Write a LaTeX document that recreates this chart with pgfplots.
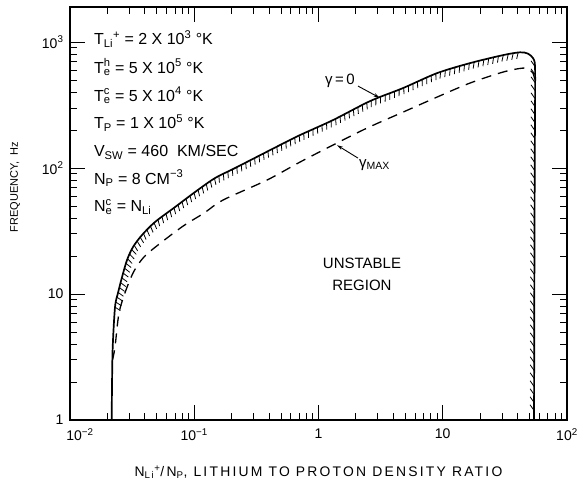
\documentclass[border=0pt]{standalone}
\usepackage{fontspec}
\setmainfont{Liberation Sans}
\newfontfamily\spaced[LetterSpace=16]{Liberation Sans}
\usepackage{pgfplots}
\pgfplotsset{compat=1.18}
\usetikzlibrary{decorations.pathreplacing, arrows.meta}

\pgfplotstableread{
x y
0.02166 1
0.02180 2.0
0.02207 3.8
0.02303 7.88
0.02434 10.2
0.02622 13.6
0.02876 18.6
0.03214 23.6
0.03798 29.4
0.04831 37.3
0.07000 49.0
0.1014 64.5
0.1469 83.3
0.2128 100
0.4898 152.3
0.7098 182.8
1.308 240.4
2.597 340
4.786 431.5
8.99 567
16.57 681
30.5 788
41.9 830
48.5 810
53.3 746
55.2 657
55.4 400
55.0 100
54.6 10
54.3 1
}\solidtab

\pgfplotstableread{
x y
0.02303 7.88
0.02434 10.2
0.02622 13.6
0.02876 18.6
0.03214 23.6
0.03798 29.4
0.04831 37.3
0.07000 49.0
0.1014 64.5
0.1469 83.3
0.2128 100
0.4898 152.3
0.7098 182.8
1.308 240.4
2.597 340
4.786 431.5
8.99 567
16.57 681
30.5 788
41.9 830
48.5 810
}\hatchtoptab

\pgfplotstableread{
x y
55.3 640
55.3 400
55.0 100
54.6 10
54.3 1
}\hatchsidetab

\pgfplotstableread{
x y
0.02198 2.99
0.02303 3.80
0.02480 7.07
0.02823 10.76
0.03274 15.2
0.03941 19.7
0.05108 24.5
0.08122 34.6
0.1198 43.9
0.1703 55.7
0.3850 80.3
0.7098 111.6
1.308 152.3
2.456 207.7
4.786 278
8.99 366
16.57 473
30.5 578
44.2 622
50.4 600
53.3 567
55.2 499
}\dashedtab

\begin{document}
\begin{tikzpicture}
\useasboundingbox (-70pt,-63pt) rectangle (509pt,420pt);
\begin{axis}[
  scale only axis, width=497pt, height=413pt,
  xmode=log, ymode=log,
  xmin=0.01, xmax=100, ymin=1, ymax=1900,
  axis line style={line width=1.3pt},
  tick pos=both, tick align=inside,
  major tick length=15pt, minor tick length=7pt,
  every tick/.style={black, line width=0.9pt},
  xtick={0.01,0.1,1,10,100},
  xticklabels={\hspace*{20pt}10\textsuperscript{−2},10\textsuperscript{−1},1,10,10\textsuperscript{2}},
  ytick={1,10,100,1000},
  yticklabels={1,10,10\textsuperscript{2},10\textsuperscript{3}},
  tick label style={font=\fontsize{14}{16}\selectfont},
  xticklabel style={yshift=-5pt},
  yticklabel style={xshift=-3pt},
  xlabel={\spaced N\textsubscript{Li}\textsuperscript{+}/N\textsubscript{P}, LITHIUM TO PROTON DENSITY RATIO},
  ylabel={FREQUENCY,\ \ Hz},
  every axis x label/.style={at={(axis description cs:0.5,-0.126)}, anchor=center, font=\fontsize{13.9}{16}\selectfont},
  every axis y label/.style={at={(axis description cs:-0.1107,0.564)}, anchor=center, rotate=90, font=\fontsize{11}{13}\selectfont},
]
\addplot[black, line width=1.7pt, smooth] table {\solidtab};
\addplot[black, line width=1.3pt, dash pattern=on 10pt off 7pt, smooth] table {\dashedtab};
\addplot[black, line width=0.8pt, decorate,
  decoration={border, segment length=5pt, amplitude=6.5pt, angle=-112}] table {\hatchtoptab};
\addplot[black, line width=0.8pt, decorate,
  decoration={border, segment length=8pt, amplitude=7pt, angle=-145}] table {\hatchsidetab};

\draw[-{Stealth[length=6pt,width=3.5pt]}, line width=0.9pt] (axis cs:2.08,447.6) -- (axis cs:3.1,362);
\node[inner sep=0pt, font=\fontsize{15}{18}\selectfont] at (axis cs:1.489,490) {γ\,=\,0};
\draw[-{Stealth[length=6pt,width=3.5pt]}, line width=0.9pt] (axis cs:2.08,120) -- (axis cs:1.409,152);
\node[anchor=west, inner sep=1pt, font=\fontsize{15}{18}\selectfont] at (axis cs:2.08,105.6) {γ\textsubscript{MAX}};

\node[anchor=base west, inner sep=0pt, font=\fontsize{16}{18}\selectfont] at (rel axis cs:0.048,0.908) {T\textsubscript{Li}\textsuperscript{+} = 2 X 10\textsuperscript{3} °K};
\node[anchor=base west, inner sep=0pt, font=\fontsize{16}{18}\selectfont] at (rel axis cs:0.048,0.840) {T\rlap{\textsuperscript{h}}\textsubscript{e} = 5 X 10\textsuperscript{5} °K};
\node[anchor=base west, inner sep=0pt, font=\fontsize{16}{18}\selectfont] at (rel axis cs:0.048,0.772) {T\rlap{\textsuperscript{c}}\textsubscript{e} = 5 X 10\textsuperscript{4} °K};
\node[anchor=base west, inner sep=0pt, font=\fontsize{16}{18}\selectfont] at (rel axis cs:0.048,0.705) {T\textsubscript{P} = 1 X 10\textsuperscript{5} °K};
\node[anchor=base west, inner sep=0pt, font=\fontsize{16}{18}\selectfont] at (rel axis cs:0.048,0.637) {V\textsubscript{SW} = 460\ \ KM/SEC};
\node[anchor=base west, inner sep=0pt, font=\fontsize{16}{18}\selectfont] at (rel axis cs:0.048,0.571) {N\textsubscript{P} = 8 CM\textsuperscript{−3}};
\node[anchor=base west, inner sep=0pt, font=\fontsize{16}{18}\selectfont] at (rel axis cs:0.048,0.504) {N\rlap{\textsuperscript{c}}\textsubscript{e} = N\textsubscript{Li}};
\node[align=center, font=\fontsize{15}{22}\selectfont] at (rel axis cs:0.5875,0.353) {UNSTABLE\\REGION};
\end{axis}
\end{tikzpicture}
\end{document}
